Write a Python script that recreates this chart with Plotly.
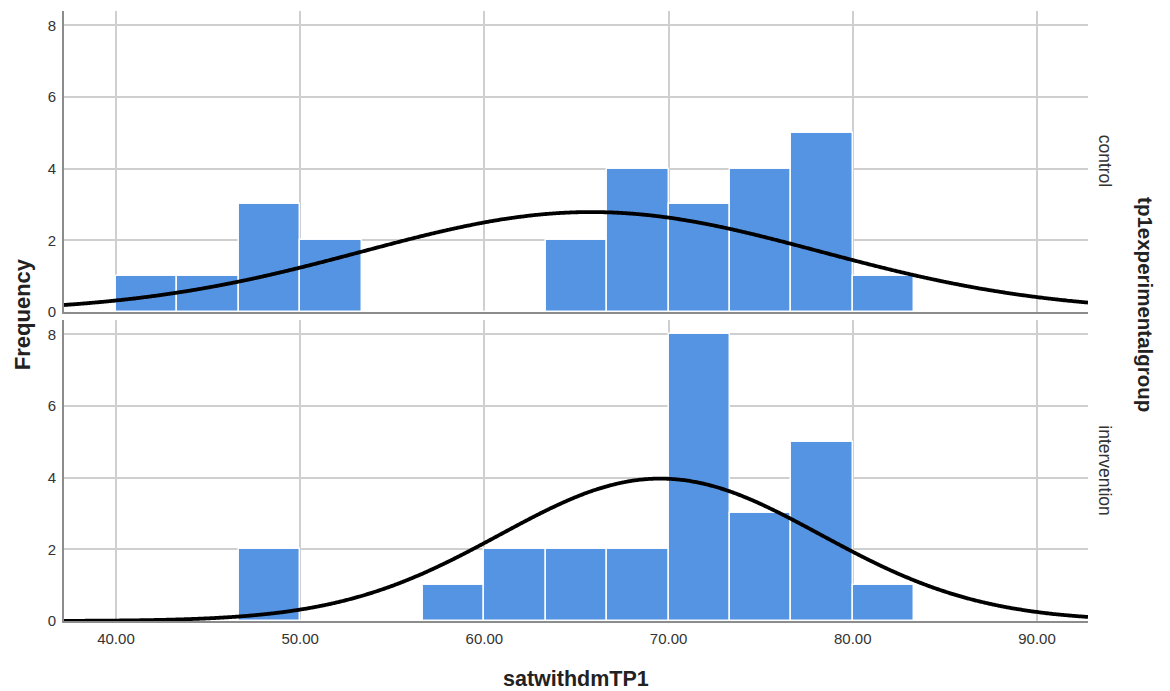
import numpy as np
import plotly.graph_objects as go

# ---- data ----
bin_width = 10.0 / 3.0
bin_lefts = [40.0, 43.333, 46.667, 50.0, 53.333, 56.667, 60.0, 63.333, 66.667, 70.0, 73.333, 76.667, 80.0]
control_counts = [1, 1, 3, 2, 0, 0, 0, 2, 4, 3, 4, 5, 1]
intervention_counts = [0, 0, 2, 0, 0, 1, 2, 2, 2, 8, 3, 5, 1]
groups = ["control", "intervention"]
# fitted normal curve parameters
control_mean, control_sd, control_n = 65.8, 12.4, 26
intervention_mean, intervention_sd, intervention_n = 69.55, 8.7, 26
x_ticks = [40, 50, 60, 70, 80, 90]
y_ticks = [0, 2, 4, 6, 8]

X_RANGE = [37.18, 92.77]
Y_RANGE = [0, 8.4]
BAR_COLOR = "#5593e3"

fig = go.Figure()

def add_panel(counts, mean, sd, n, xa, ya):
    centers = [b + bin_width / 2 for b in bin_lefts]
    fig.add_trace(go.Bar(
        x=centers, y=counts, width=[bin_width] * len(centers),
        marker=dict(color=BAR_COLOR, line=dict(color="rgba(255,255,255,0.95)", width=1.5)),
        xaxis=xa, yaxis=ya, showlegend=False, hoverinfo="x+y"))
    xs = np.linspace(X_RANGE[0], X_RANGE[1], 600)
    ys = n * bin_width / (sd * np.sqrt(2 * np.pi)) * np.exp(-0.5 * ((xs - mean) / sd) ** 2)
    fig.add_trace(go.Scatter(
        x=xs, y=ys, mode="lines", line=dict(color="black", width=3.8, shape="spline"),
        xaxis=xa, yaxis=ya, showlegend=False, hoverinfo="skip"))

add_panel(control_counts, control_mean, control_sd, control_n, "x", "y")
add_panel(intervention_counts, intervention_mean, intervention_sd, intervention_n, "x2", "y2")

font = "Liberation Sans, Arial, sans-serif"
grid = "#cfcfcf"
axis_common = dict(showgrid=True, gridcolor=grid, gridwidth=1.5, zeroline=False,
                   showline=True, linecolor="#8c8c8c", linewidth=2,
                   tickfont=dict(family=font, size=15, color="#333333"),
                   ticks="outside", ticklen=3, tickcolor="rgba(0,0,0,0)")

fig.update_layout(
    width=1170, height=691,
    margin=dict(l=64, r=82, t=11, b=70),
    paper_bgcolor="white", plot_bgcolor="white",
    bargap=0,
    xaxis=dict(domain=[0, 1], range=X_RANGE, tickvals=x_ticks, showticklabels=False,
               anchor="y", **axis_common),
    yaxis=dict(domain=[0.5066, 1], range=Y_RANGE, tickvals=y_ticks, anchor="x", **axis_common),
    xaxis2=dict(domain=[0, 1], range=X_RANGE, tickvals=x_ticks, tickformat=".2f",
                anchor="y2", **axis_common),
    yaxis2=dict(domain=[0, 0.4934], range=Y_RANGE, tickvals=y_ticks, anchor="x2", **axis_common),
    annotations=[
        dict(text=groups[0], xref="paper", yref="paper", x=1.0166, y=0.753, showarrow=False,
             xanchor="center", yanchor="middle",
             textangle=90, font=dict(family=font, size=17.5, color="#333333")),
        dict(text=groups[1], xref="paper", yref="paper", x=1.0166, y=0.247, showarrow=False,
             xanchor="center", yanchor="middle",
             textangle=90, font=dict(family=font, size=17.5, color="#333333")),
        dict(text="<b>tp1experimentalgroup</b>", xref="paper", yref="paper", x=1.0566, y=0.518,
             xanchor="center", yanchor="middle",
             showarrow=False, textangle=90, font=dict(family=font, size=20.5, color="#222222")),
        dict(text="<b>Frequency</b>", xref="paper", yref="paper", x=-0.041, y=0.503,
             xanchor="center", yanchor="middle", showarrow=False, textangle=-90,
             font=dict(family=font, size=22, color="#222222")),
        dict(text="<b>satwithdmTP1</b>", xref="paper", yref="paper", x=0.5, y=-0.095,
             xanchor="center", yanchor="middle", showarrow=False,
             font=dict(family=font, size=21.5, color="#222222")),
    ],
)

fig.write_html("out.html")
